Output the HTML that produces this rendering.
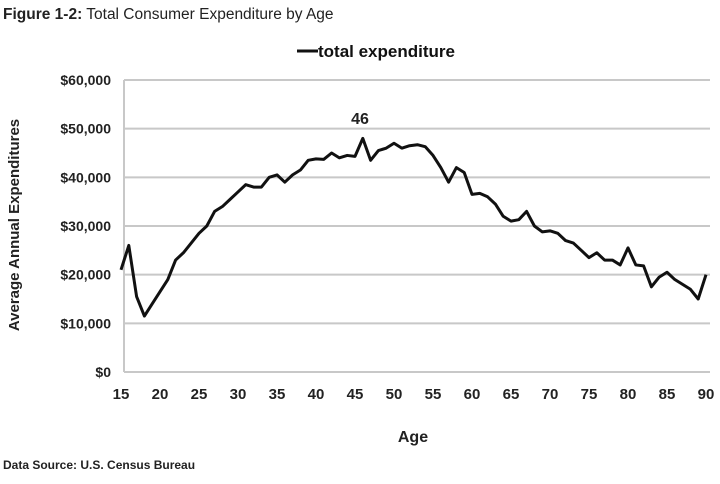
<!DOCTYPE html>
<html><head><meta charset="utf-8"><style>
body{margin:0;background:#fff;width:720px;height:479px;overflow:hidden;font-family:"Liberation Sans",Arial,sans-serif;}
</style></head><body>
<svg id="chart" width="720" height="479" xmlns="http://www.w3.org/2000/svg" font-family="Liberation Sans, Arial, sans-serif">
<text x="3" y="19" font-size="15.5" fill="#222"><tspan font-weight="bold">Figure 1-2:</tspan> Total Consumer Expenditure by Age</text>
<g>
<line x1="297" y1="51" x2="318" y2="51" stroke="#111" stroke-width="3"/>
<text x="318" y="57" font-size="17" font-weight="bold" fill="#111">total expenditure</text>
</g>
<g id="grid"></g><g id="yticks"></g><g id="xticks"></g>
<text transform="translate(19,225) rotate(-90)" text-anchor="middle" font-size="15" font-weight="bold" fill="#222">Average Annual Expenditures</text>
<text x="413" y="442" text-anchor="middle" font-size="16" font-weight="bold" fill="#222">Age</text>
<text x="360" y="124" text-anchor="middle" font-size="16" font-weight="bold" fill="#222">46</text>
<text x="3" y="469" font-size="12" font-weight="bold" fill="#222">Data Source: U.S. Census Bureau</text>
<g id="series"></g>
</svg>
<script>
const ages=[15,16,17,18,19,20,21,22,23,24,25,26,27,28,29,30,31,32,33,34,35,36,37,38,39,40,41,42,43,44,45,46,47,48,49,50,51,52,53,54,55,56,57,58,59,60,61,62,63,64,65,66,67,68,69,70,71,72,73,74,75,76,77,78,79,80,81,82,83,84,85,86,87,88,89,90];
const expenditure=[21000,26000,15500,11500,14000,16500,19000,23000,24500,26500,28500,30000,33000,34000,35500,37000,38500,38000,38000,40000,40500,39000,40500,41500,43500,43800,43700,45000,44000,44500,44300,48000,43500,45500,46000,47000,46000,46500,46700,46300,44500,42000,39000,42000,41000,36500,36700,36000,34500,32000,31000,31300,33000,30000,28800,29000,28500,27000,26500,25000,23500,24500,23000,23000,22000,25500,22000,21800,17500,19500,20500,19000,18000,17000,15000,20000];
const yTicks=[0,10000,20000,30000,40000,50000,60000];
const xTicks=[15,20,25,30,35,40,45,50,55,60,65,70,75,80,85,90];
const NS='http://www.w3.org/2000/svg';
const X=a=>121+(a-15)*(585/75);
const Y=v=>372-v*(292/60000);
function mk(t,at,parent){const e=document.createElementNS(NS,t);for(const k in at)e.setAttribute(k,at[k]);document.getElementById(parent).appendChild(e);return e;}
yTicks.forEach(v=>{
 const l=mk('line',{x1:124,x2:710,y1:Y(v),y2:Y(v),stroke:'#c8c8c8','stroke-width':2},'grid');
 
 
 const t=mk('text',{x:111,y:Y(v)+5,'text-anchor':'end','font-size':14,'font-weight':'bold',fill:'#222'},'yticks');
 t.textContent='$'+v.toLocaleString('en-US');
 
 
});
const ax=mk('line',{x1:124,x2:124,y1:Y(60000),y2:Y(0),stroke:'#c8c8c8','stroke-width':2},'grid');


xTicks.forEach(a=>{
 const t=mk('text',{x:X(a),y:399,'text-anchor':'middle','font-size':15,'font-weight':'bold',fill:'#222'},'xticks');
 t.textContent=a;
 
 
});
const p=mk('polyline',{points:ages.map((a,i)=>X(a)+','+Y(expenditure[i])).join(' '),fill:'none',stroke:'#111','stroke-width':3,'stroke-linejoin':'round'},'series');


</script>
</body></html>
